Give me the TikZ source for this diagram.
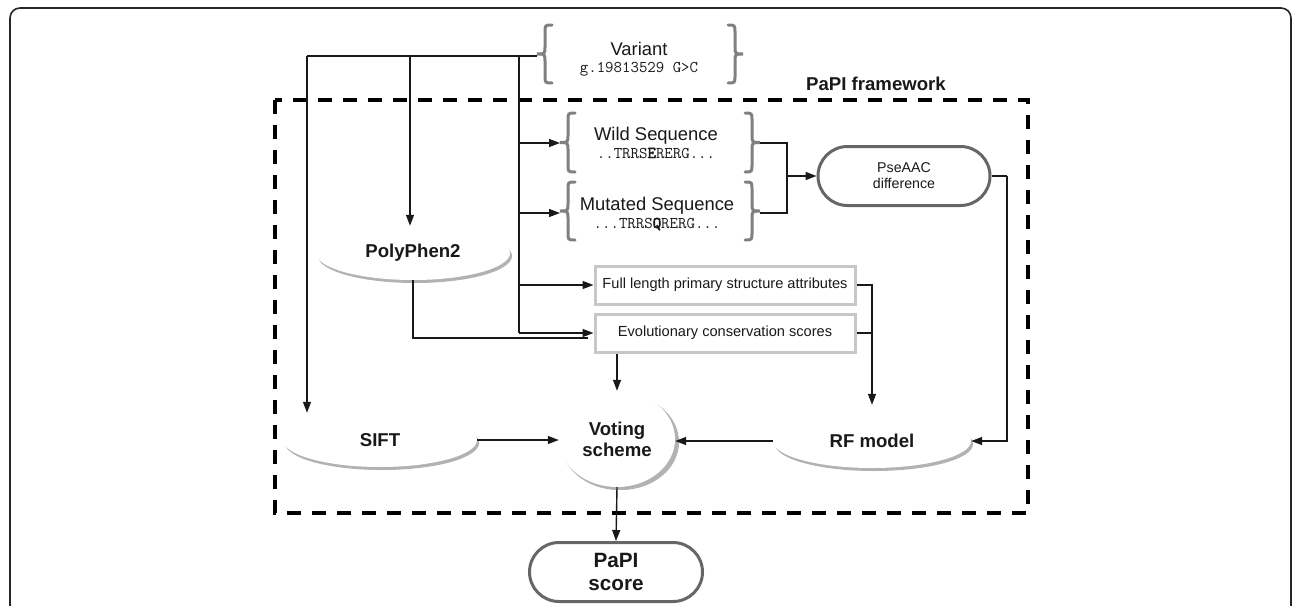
\documentclass[tikz,border=0pt]{standalone}
\usepackage{fontspec}
\setmainfont{Liberation Sans}
\newfontfamily\seqmono[BoldFont={Latin Modern Mono}, BoldFeatures={FakeBold=3}]{Latin Modern Mono}
\usetikzlibrary{arrows.meta,shapes.geometric,shapes.misc,shadows}
\newcommand{\lblfont}{\fontsize{18.6pt}{21pt}\selectfont\bfseries}
\newcommand{\scorefont}{\fontsize{20.7pt}{23pt}\selectfont\bfseries}
\newcommand{\boxfont}{\fontsize{14.6pt}{17pt}\selectfont}
\newcommand{\headfont}{\fontsize{18.4pt}{21pt}\selectfont}
\newcommand{\seqfont}{\seqmono\fontsize{16.4pt}{18pt}\selectfont\color{black!65}}
% left brace "{" : tip x, top y, bottom y
\newcommand{\mybraceL}[3]{%
  \pgfmathsetmacro{\bmid}{(#2+#3)/2}%
  \draw[brc] (#1+15,#2) .. controls (#1+8,#2) .. (#1+8,#2+8) -- (#1+8,\bmid-8)
    .. controls (#1+8,\bmid) .. (#1,\bmid) .. controls (#1+8,\bmid) .. (#1+8,\bmid+8)
    -- (#1+8,#3-8) .. controls (#1+8,#3) .. (#1+15,#3);}
% right brace "}" : tip x, top y, bottom y
\newcommand{\mybraceR}[3]{%
  \pgfmathsetmacro{\bmid}{(#2+#3)/2}%
  \draw[brc] (#1-15,#2) .. controls (#1-8,#2) .. (#1-8,#2+8) -- (#1-8,\bmid-8)
    .. controls (#1-8,\bmid) .. (#1,\bmid) .. controls (#1-8,\bmid) .. (#1-8,\bmid+8)
    -- (#1-8,#3-8) .. controls (#1-8,#3) .. (#1-15,#3);}
\begin{document}
\begin{tikzpicture}[x=1pt,y=-1pt,
  conn/.style={line width=1.4pt, draw=black!90},
  arr/.style={conn, -{Triangle[length=11pt,width=8pt]}},
  brc/.style={draw=black!50, line width=3pt, line cap=round},
  ell/.style={ellipse, draw=none, fill=white, inner sep=0pt, text=black!90, font=\lblfont, align=center,
    drop shadow={shadow xshift=2pt, shadow yshift=-3pt, fill=black!30, opacity=1}},
  gbox/.style={rectangle, draw=black!22, line width=3pt, fill=white, minimum width=260pt,
    minimum height=38pt, inner sep=0pt, font=\boxfont, text=black!90},
  stad/.style={rounded rectangle, draw=black!60, line width=3pt, fill=white, inner sep=0pt,
    align=center, text=black!90},
  txt/.style={inner sep=0pt, text=black!90},
]
\useasboundingbox (0,0) rectangle (1292,605);
\clip (0,0) rectangle (1292,605);
\fill[white] (0,0) rectangle (1292,605);
% outer frame
\draw[line width=1.6pt, black!85, rounded corners=10pt] (10,8) rectangle (1291,700);
% PaPI framework dashed frame
\draw[line width=4pt, dash pattern=on 14pt off 11pt] (275,100) rectangle (1028,513);
\node[txt, font=\lblfont] (fw) at (876,84) {PaPI framework};

% Variant
\mybraceL{537}{25}{83}
\mybraceR{743}{25}{83}
\node[txt, font=\headfont, anchor=base] (var) at (639,55) {Variant};
\node[txt, font=\seqfont, anchor=base] (varseq) at (639,72) {g.19813529 G>C};
% Wild sequence
\mybraceL{560}{113}{172}
\mybraceR{760}{113}{172}
\node[txt, font=\headfont, anchor=base] (wild) at (656,140) {Wild Sequence};
\node[txt, font=\seqfont, anchor=base] (wildseq) at (656,158) {..TRRS\textbf{E}RERG...};
% Mutated sequence
\mybraceL{560}{182}{240}
\mybraceR{760}{182}{240}
\node[txt, font=\headfont, anchor=base] (mut) at (657,210) {Mutated Sequence};
\node[txt, font=\seqfont, anchor=base] (mutseq) at (657,228) {...TRRS\textbf{Q}RERG...};

\coordinate (vtip) at (537,56);
\coordinate (j1) at (307,56);
\coordinate (j2) at (410,56);
\coordinate (j3) at (519,56);
\coordinate (j4) at (519,333);
\coordinate (wildL) at (560,143);
\coordinate (mutL) at (560,213);
\coordinate (wildR) at (760,143);
\coordinate (mutR) at (760,213);
\coordinate (jn) at (787,176);
\coordinate (pr) at (1007,176);
\coordinate (e2) at (588,338);

% nodes
\node[ell, minimum width=194pt, minimum height=54pt] (poly) at (413,253) {PolyPhen2};
\node[ell, minimum width=194pt, minimum height=54pt] (sift) at (380,440) {SIFT};
\node[ell, minimum width=198pt, minimum height=54pt] (rf) at (872,441) {RF model};
\node[ell, minimum width=116pt, minimum height=96pt, drop shadow={shadow xshift=4pt, shadow yshift=-3pt, fill=black!30, opacity=1}] (vote) at (617,439) {Voting\\scheme};
\node[gbox] (full) at (725,285) {Full length primary structure attributes};
\node[gbox] (evo) at (725,333) {Evolutionary conservation scores};
\node[stad, minimum width=172pt, minimum height=59pt, font=\fontsize{14.2pt}{16pt}\selectfont] (pse) at (904,176) {PseAAC\\difference};
\node[stad, minimum width=173pt, minimum height=59pt, font=\scorefont] (papi) at (616,572) {PaPI\\score};

% connectors
\draw[conn] (vtip) -- (j1);
\draw[arr] (j1) -- (j1 |- sift.north);
\draw[arr] (j2) -- (j2 |- poly.north);
\draw[conn] (j3) -- (j4);
\draw[arr] (j3 |- wildL) -- (wildL);
\draw[arr] (j3 |- mutL) -- (mutL);
\draw[arr] (j3 |- full.west) -- (full.west);
\draw[arr] (j4) -- (evo.west);
\draw[conn] (poly.south) |- (e2);
\draw[conn] (wildR) -| (jn);
\draw[conn] (mutR) -| (jn);
\draw[arr] (jn) -- (pse.west);
\draw[conn] (pse.east) -- (pr);
\draw[arr] (pr) |- (rf.east);
\draw[arr] (full.east) -| ([yshift=9pt]rf.north);
\draw[conn] (evo.east) -- (evo.east -| rf.north);
\draw[arr] (vote.north |- evo.south) -- (vote.north);
\draw[arr] (sift.east) -- (sift.east -| vote.west);
\draw[arr] (rf.west) -- (rf.west -| vote.east);
\draw[arr] (vote.south) -- (papi.north);
\end{tikzpicture}
\end{document}
